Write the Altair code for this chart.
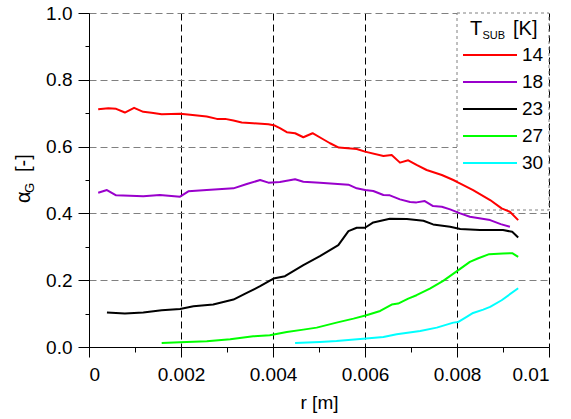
import altair as alt
import pandas as pd

# Gas volume fraction profiles alpha_G(r) for several substrate temperatures
temps = ["14", "18", "23", "27", "30"]
colors = ["#ff0000", "#9900cc", "#000000", "#00ff00", "#00ffff"]

r14 = [0.00020, 0.00042, 0.00059, 0.00078, 0.00098, 0.00118, 0.00136, 0.00158, 0.00198, 0.00220,
       0.00256, 0.00278, 0.00296, 0.00314, 0.00332, 0.00357, 0.00390, 0.00404, 0.00415, 0.00430,
       0.00448, 0.00466, 0.00486, 0.00509, 0.00524, 0.00543, 0.00582, 0.00600, 0.00640, 0.00658,
       0.00676, 0.00694, 0.00712, 0.00734, 0.00767, 0.00792, 0.00803, 0.00835, 0.00872, 0.00897,
       0.00915, 0.00933]
a14 = [0.712, 0.715, 0.713, 0.702, 0.716, 0.704, 0.701, 0.697, 0.698, 0.695,
       0.690, 0.683, 0.683, 0.678, 0.672, 0.670, 0.667, 0.663, 0.655, 0.643,
       0.640, 0.628, 0.640, 0.622, 0.610, 0.597, 0.593, 0.585, 0.572, 0.575,
       0.552, 0.559, 0.545, 0.530, 0.515, 0.500, 0.492, 0.470, 0.440, 0.415,
       0.405, 0.380]

r18 = [0.00020, 0.00039, 0.00059, 0.00089, 0.00118, 0.00154, 0.00198, 0.00216, 0.00256, 0.00314,
       0.00343, 0.00372, 0.00390, 0.00415, 0.00448, 0.00466, 0.00502, 0.00564, 0.00582, 0.00600,
       0.00618, 0.00640, 0.00654, 0.00676, 0.00698, 0.00712, 0.00730, 0.00748, 0.00767, 0.00785,
       0.00807, 0.00828, 0.00872, 0.00895, 0.00915]
a18 = [0.462, 0.470, 0.454, 0.453, 0.451, 0.455, 0.450, 0.466, 0.470, 0.475,
       0.488, 0.500, 0.492, 0.494, 0.502, 0.495, 0.492, 0.486, 0.475, 0.470,
       0.467, 0.455, 0.454, 0.442, 0.434, 0.433, 0.437, 0.422, 0.420, 0.412,
       0.400, 0.390, 0.380, 0.368, 0.360]

r23 = [0.00039, 0.00078, 0.00118, 0.00158, 0.00198, 0.00227, 0.00270, 0.00314, 0.00343, 0.00372,
       0.00401, 0.00426, 0.00466, 0.00502, 0.00542, 0.00564, 0.00582, 0.00600, 0.00618, 0.00654,
       0.00691, 0.00727, 0.00748, 0.00785, 0.00807, 0.00850, 0.00900, 0.00920, 0.00933]
a23 = [0.103, 0.100, 0.103, 0.110, 0.114, 0.122, 0.127, 0.142, 0.162, 0.182,
       0.205, 0.212, 0.245, 0.272, 0.305, 0.347, 0.357, 0.357, 0.373, 0.384,
       0.383, 0.378, 0.367, 0.360, 0.353, 0.350, 0.350, 0.345, 0.328]

r27 = [0.00158, 0.00198, 0.00256, 0.00307, 0.00357, 0.00393, 0.00430, 0.00466, 0.00495, 0.00538,
       0.00575, 0.00603, 0.00633, 0.00658, 0.00672, 0.00694, 0.00712, 0.00741, 0.00770, 0.00803,
       0.00828, 0.00845, 0.00870, 0.00900, 0.00920, 0.00933]
a27 = [0.012, 0.014, 0.017, 0.023, 0.032, 0.035, 0.045, 0.052, 0.058, 0.073,
       0.085, 0.095, 0.108, 0.127, 0.130, 0.145, 0.155, 0.175, 0.198, 0.230,
       0.255, 0.265, 0.278, 0.280, 0.281, 0.270]

r30 = [0.00448, 0.00502, 0.00538, 0.00596, 0.00640, 0.00669, 0.00720, 0.00756, 0.00792, 0.00803,
       0.00821, 0.00835, 0.00857, 0.00872, 0.00897, 0.00933]
a30 = [0.012, 0.015, 0.018, 0.025, 0.030, 0.038, 0.048, 0.058, 0.073, 0.075,
       0.090, 0.102, 0.112, 0.120, 0.140, 0.176]

x_major = [0, 0.002, 0.004, 0.006, 0.008, 0.01]
x_minor = [0.001, 0.003, 0.005, 0.007, 0.009]
y_major = [0.0, 0.2, 0.4, 0.6, 0.8, 1.0]
y_minor = [0.1, 0.3, 0.5, 0.7, 0.9]

rows = []
for t, rs, vals in zip(temps, [r14, r18, r23, r27, r30], [a14, a18, a23, a27, a30]):
    for i, (r, a) in enumerate(zip(rs, vals)):
        rows.append({"T": t, "r": r, "a": a, "i": i})
df = pd.DataFrame(rows)

FONT = "Liberation Sans"
W, H = 460, 334

xs = alt.Scale(domain=[0, 0.01], nice=False, zero=False)
ys = alt.Scale(domain=[0, 1], nice=False)

# white legend panel with a dashed grey border, over the grid
panel = alt.Chart(pd.DataFrame({"k": [0]})).mark_rect(
    fill="white", stroke="#808080", strokeDash=[3, 3], strokeWidth=1
).encode(x=alt.value(368), x2=alt.value(460), y=alt.value(0), y2=alt.value(197))

lines = alt.Chart(df).mark_line(strokeWidth=2, strokeJoin="round").encode(
    x=alt.X("r:Q", scale=xs, axis=alt.Axis(
        values=x_major, format="~g", title="r [m]", orient="bottom",
        tickSize=10, labelPadding=8, titlePadding=9,
        grid=True, gridColor="#000000", gridDash=[7, 4], gridWidth=1)),
    y=alt.Y("a:Q", scale=ys, axis=alt.Axis(
        values=y_major, format=".1f", title=None, orient="left",
        tickSize=11, labelPadding=6,
        grid=True, gridColor="#808080", gridDash=[7, 4], gridWidth=1)),
    color=alt.Color("T:N", scale=alt.Scale(domain=temps, range=colors), legend=alt.Legend(
        orient="none", legendX=391, legendY=32, title=None, padding=0,
        symbolType="M-3,0H3", symbolSize=324, symbolStrokeWidth=2,
        labelFont=FONT, labelFontSize=19, labelColor="black", labelOffset=22,
        rowPadding=7)),
    order="i:Q",
)

# minor ticks on both axes
minor = alt.Chart(df).mark_point(opacity=0, size=1).encode(
    x=alt.X("r:Q", scale=xs, axis=alt.Axis(
        values=x_minor, labels=False, domain=False, grid=False, title=None,
        orient="bottom", tickSize=5)),
    y=alt.Y("a:Q", scale=ys, axis=alt.Axis(
        values=y_minor, labels=False, domain=False, grid=False, title=None,
        orient="left", tickSize=4)),
)

one = pd.DataFrame({"k": [0]})


def label(txt, x, y, size, angle=0):
    return alt.Chart(one).mark_text(
        text=txt, font=FONT, fontSize=size, color="black", align="left",
        baseline="alphabetic", angle=angle
    ).encode(x=alt.value(x), y=alt.value(y))


texts = [
    # legend title T_SUB [K]
    label("T", 381, 22, 20),
    label("SUB", 393.5, 26, 11),
    label("[K]", 424, 22, 20),
    # y-axis title alpha_G [-]
    label("\u03b1", -59, 190, 20, 270),
    label("G", -55, 180, 13, 270),
    label("[-]", -59, 159, 20, 270),
]

chart = alt.layer(panel, minor, lines, *texts).resolve_axis(
    x="independent", y="independent"
).properties(
    width=W, height=H,
    autosize=alt.AutoSizeParams(type="none"),
    padding={"left": 89, "top": 13, "right": 22, "bottom": 72},
).configure_view(stroke=None).configure_axis(
    labelFont=FONT, labelFontSize=19, labelColor="black",
    titleFont=FONT, titleFontSize=19, titleColor="black", titleFontWeight="normal",
    tickColor="black", domainColor="black", tickWidth=1, domainWidth=1,
)

chart.save("out.html", embed_options={"renderer": "svg", "actions": False})
